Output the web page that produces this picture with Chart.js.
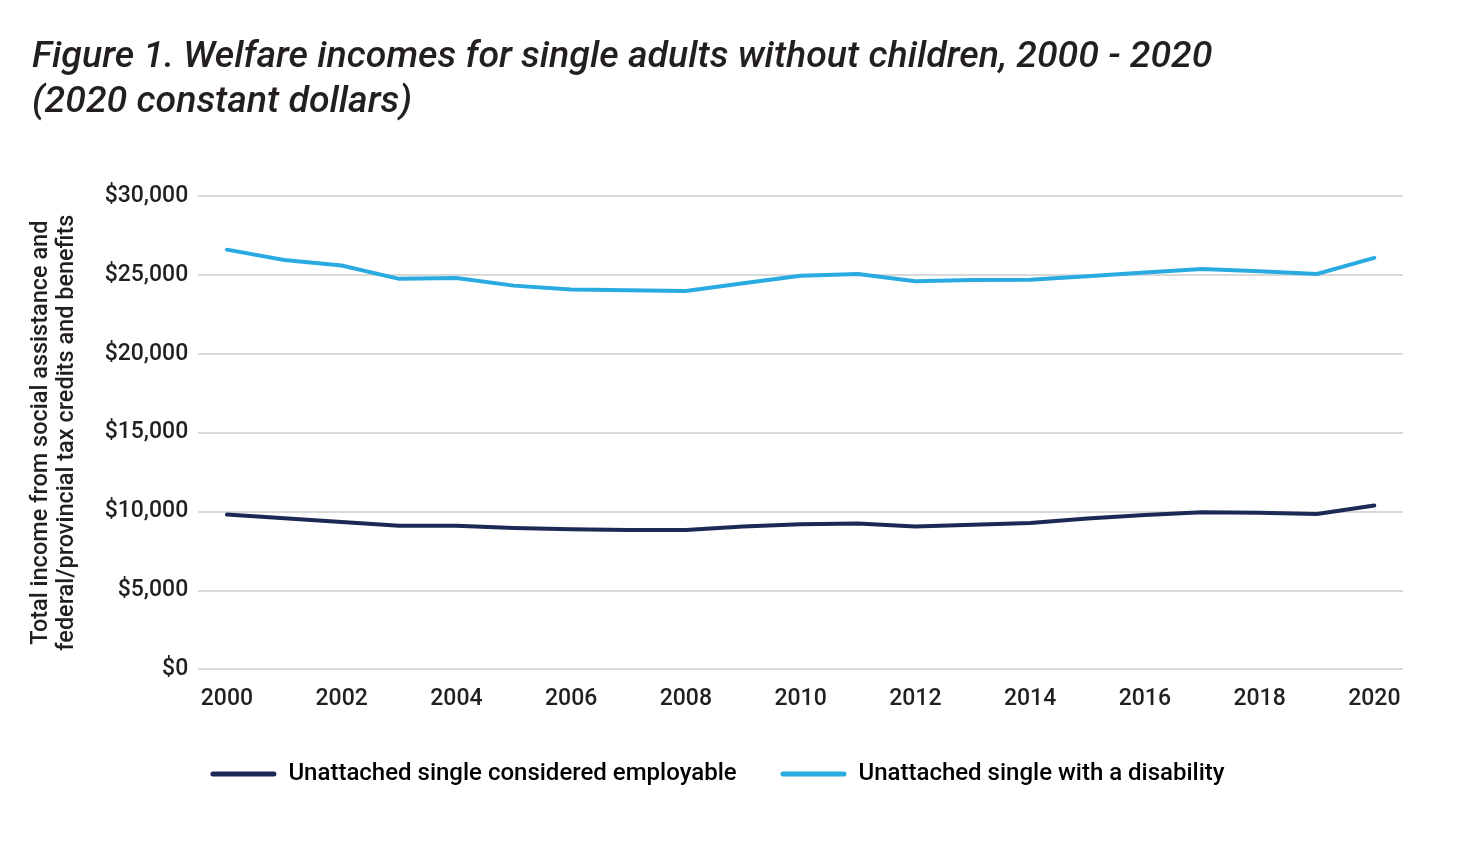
<!DOCTYPE html>
<html>
<head>
<meta charset="utf-8">
<script src="https://cdn.jsdelivr.net/npm/chart.js@4"></script>
<style>
    html, body { margin: 0; padding: 0; background: #fff; }
    #wrap { width: 1477px; height: 842px; }
</style>
</head>
<body>
<div id="wrap"><canvas id="welfare"></canvas></div>
<script>
var years = ['2000', '2001', '2002', '2003', '2004', '2005', '2006', '2007', '2008', '2009', '2010',
    '2011', '2012', '2013', '2014', '2015', '2016', '2017', '2018', '2019', '2020'];
var employable = [9810, 9580, 9340, 9110, 9110, 8960, 8880, 8840, 8840, 9050, 9200,
    9240, 9050, 9170, 9280, 9560, 9790, 9960, 9920, 9850, 10380];
var disability = [26600, 25950, 25590, 24750, 24810, 24320, 24070, 24030, 23985, 24470, 24950,
    25060, 24600, 24680, 24700, 24920, 25150, 25380, 25230, 25060, 26080];
var yTicks = [0, 5000, 10000, 15000, 20000, 25000, 30000];

var textColor = '#231f20';
var navy = '#1c2855';
var sky = '#29abe2';

Chart.defaults.font.family = 'Roboto, "Noto Sans", sans-serif';
Chart.defaults.color = textColor;

var ctx = document.getElementById('welfare').getContext('2d');
var welfareChart = new Chart(ctx, {
    type: 'line',
    data: {
        labels: years,
        datasets: [{
            label: 'Unattached single considered employable',
            data: employable,
            borderColor: navy,
            backgroundColor: navy,
            borderWidth: 4,
            pointRadius: 0,
            borderCapStyle: 'round',
            tension: 0
        }, {
            label: 'Unattached single with a disability',
            data: disability,
            borderColor: sky,
            backgroundColor: sky,
            borderWidth: 4,
            pointRadius: 0,
            borderCapStyle: 'round',
            tension: 0
        }]
    },
    options: {
        responsive: true,
        maintainAspectRatio: false,
        animation: false,
        layout: {
            padding: { left: 32, right: 74, top: 0, bottom: 46 }
        },
        plugins: {
            title: {
                display: true,
                align: 'start',
                text: ['Figure 1. Welfare incomes for single adults without children, 2000 - 2020',
                    '(2020 constant dollars)'],
                font: { size: 37.5, style: 'italic', weight: '500', lineHeight: 1.2 },
                color: textColor,
                padding: { top: 35, bottom: 71 }
            },
            legend: {
                position: 'bottom',
                labels: {
                    boxWidth: 66,
                    boxHeight: 5,
                    padding: 14,
                    font: { size: 24, weight: '500' },
                    color: textColor,
                    generateLabels: function (chart) {
                        return chart.data.datasets.map(function (ds, i) {
                            return {
                                text: i === 0 ? ds.label + '     ' : ds.label,
                                fillStyle: ds.borderColor,
                                strokeStyle: ds.borderColor,
                                lineWidth: 0,
                                hidden: false,
                                datasetIndex: i,
                                borderRadius: 2.5
                            };
                        });
                    },
                    useBorderRadius: true
                }
            },
            tooltip: { enabled: false }
        },
        scales: {
            x: {
                offset: true,
                grid: { display: false },
                border: { display: false },
                ticks: {
                    autoSkip: false,
                    maxRotation: 0,
                    padding: 8,
                    font: { size: 23, weight: '500' },
                    color: textColor,
                    callback: function (value, index) {
                        return index % 2 === 0 ? this.getLabelForValue(value) : '';
                    }
                },
                afterFit: function (axis) {
                    axis.height += 27;
                }
            },
            y: {
                min: 0,
                max: 30000,
                afterBuildTicks: function (axis) {
                    axis.ticks = yTicks.map(function (v) { return { value: v }; });
                },
                grid: { color: '#d9d9d9', lineWidth: 2, drawTicks: false },
                border: { display: false },
                ticks: {
                    padding: 10,
                    font: { size: 23, weight: '500' },
                    color: textColor,
                    callback: function (value) {
                        return '$' + value.toLocaleString('en-US');
                    }
                },
                title: {
                    display: true,
                    text: ['Total income from social assistance and',
                        'federal/provincial tax credits and benefits'],
                    font: { size: 23.5, weight: '500', lineHeight: 1.12 },
                    color: textColor,
                    padding: { top: -4, bottom: 14 }
                }
            }
        }
    }
});
</script>
</body>
</html>
